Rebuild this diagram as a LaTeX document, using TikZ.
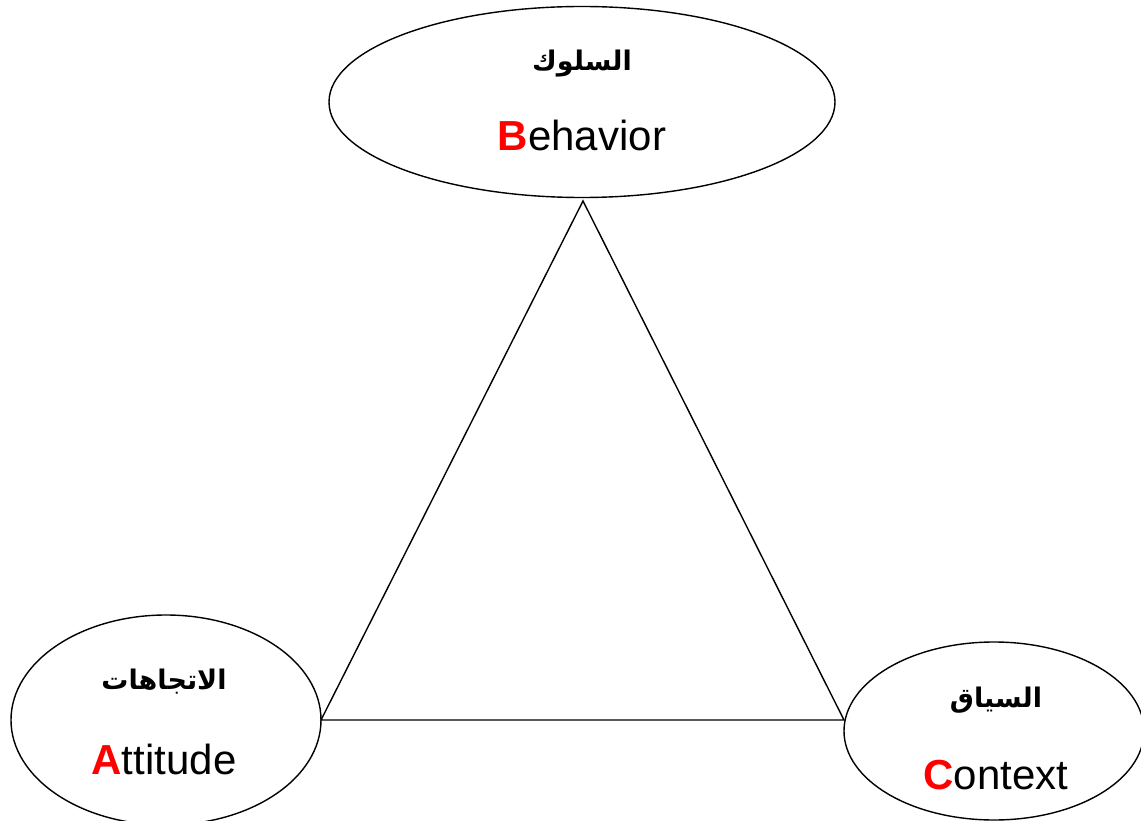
\documentclass[tikz,border=0pt]{standalone}
\usepackage{fontspec}
\setmainfont{Liberation Sans}
\newfontfamily\arabicfont[Script=Arabic]{DejaVu Sans}
\TeXXeTstate=1
\usetikzlibrary{shapes.geometric}
\definecolor{letred}{RGB}{255,0,0}
\tikzset{
  ovalbox/.style={draw=black, line width=1.4pt},
  edgeline/.style={draw=black, line width=1.4pt},
  artext/.style={font=\arabicfont\bfseries\fontsize{27}{30}\selectfont, inner sep=0pt},
  entext/.style={font=\fontsize{42}{48}\selectfont, inner sep=0pt}
}
\begin{document}
\begin{tikzpicture}[x=1pt,y=-1pt]
\useasboundingbox (0,0) rectangle (1141,821);
\fill[white] (0,0) rectangle (1141,821);
% ellipses
\draw[ovalbox] (582,102) ellipse [x radius=253, y radius=95.5];
\draw[ovalbox] (166,720) ellipse [x radius=155, y radius=105];
\draw[ovalbox] (994,731) ellipse [x radius=150, y radius=89];
% triangle vertices
\coordinate (apex) at (583,201);
\coordinate (lv) at (321,720);
\coordinate (rv) at (844,720);
\draw[edgeline, line join=miter] (apex) -- (lv) -- (rv) -- cycle;
% texts
\node[artext] (ar1) at (582,64) {\beginR السلوك\endR};
\node[entext, anchor=base] (en1) at (582,151) {\textcolor{letred}{\bfseries B}ehavior};
\node[artext] (ar2) at (164,682) {\beginR الاتجاهات\endR};
\node[entext, anchor=base] (en2) at (164,774) {\textcolor{letred}{\bfseries A}ttitude};
\node[artext] (ar3) at (996,700) {\beginR السياق\endR};
\node[entext, anchor=base] (en3) at (996,789) {\textcolor{letred}{\bfseries C}ontext};
\end{tikzpicture}
\end{document}
